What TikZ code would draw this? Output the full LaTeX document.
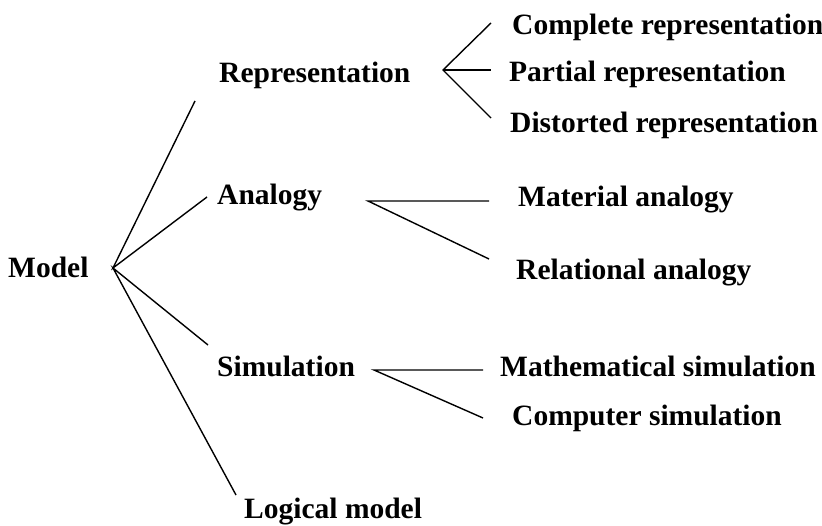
\documentclass[tikz,border=0pt]{standalone}
\usepackage{fontspec}
\setmainfont{Liberation Serif}
\usepackage{tikz}
\tikzstyle{term} = [anchor=base west, inner sep=0pt, font=\fontsize{29.5}{31}\selectfont\bfseries]
\tikzstyle{branch} = [line width=1.4pt, black]

\begin{document}
\begin{tikzpicture}[x=1pt, y=-1pt]
	\useasboundingbox (0,0) rectangle (822,526);
	\node (model) [term] at (8,278) {Model};
	\node (rep) [term] at (219,83) {Representation};
	\node (ana) [term] at (217,205) {Analogy};
	\node (sim) [term] at (217,377) {Simulation};
	\node (log) [term] at (244,518) {Logical model};
	\node (comp) [term] at (512,35) {Complete representation};
	\node (part) [term] at (509,82) {Partial representation};
	\node (dist) [term] at (510,133) {Distorted representation};
	\node (mat) [term] at (518,207) {Material analogy};
	\node (rel) [term] at (516,280) {Relational analogy};
	\node (math) [term] at (500,377) {Mathematical simulation};
	\node (cmp) [term] at (512,425) {Computer simulation};
	% fork points and line ends
	\coordinate (m0) at (113,268);
	\coordinate (m1) at (195,101);
	\coordinate (m2) at (207,197);
	\coordinate (m3) at (208,345);
	\coordinate (m4) at (236,495);
	\coordinate (r0) at (443,70);
	\coordinate (r1) at (491,23);
	\coordinate (r2) at (491,70);
	\coordinate (r3) at (491,118);
	\coordinate (a0) at (368,201);
	\coordinate (a1) at (489,201);
	\coordinate (a2) at (489,259);
	\coordinate (s0) at (374,370);
	\coordinate (s1) at (483,370);
	\coordinate (s2) at (483,418);
	\draw [branch] (m1) -- (m0) -- (m2);
	\draw [branch] (m3) -- (m0) -- (m4);
	\draw [branch] (r1) -- (r0) -- (r3);
	\draw [branch] (r0) -- (r2);
	\draw [branch] (a1) -- (a0) -- (a2);
	\draw [branch] (s1) -- (s0) -- (s2);
\end{tikzpicture}
\end{document}
